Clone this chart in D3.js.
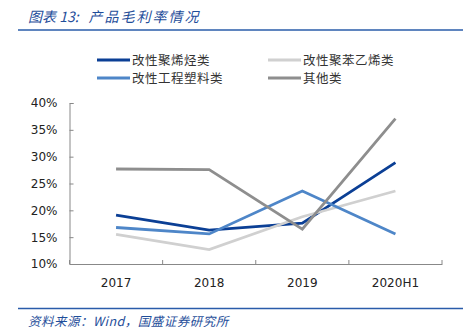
<!DOCTYPE html>
<html><head><meta charset="utf-8">
<script src="https://cdn.jsdelivr.net/npm/d3@7"></script>
<style>body{margin:0;background:#fff}svg{display:block}</style>
</head><body>
<svg id="c" width="474" height="336"></svg>
<script>
const categories = ["2017", "2018", "2019", "2020H1"];
const seriesNames = ["改性聚烯烃类", "改性聚苯乙烯类", "改性工程塑料类", "其他类"];
const polyolefin = [19.1, 16.3, 17.6, 28.9];
const polystyrene = [15.5, 12.7, 18.8, 23.6];
const engPlastic = [16.8, 15.6, 23.6, 15.6];
const others = [27.7, 27.6, 16.5, 37.1];
const yTicks = [10, 15, 20, 25, 30, 35, 40];
const colors = ["#0b3f95", "#d0d0d0", "#4e86c8", "#8e8e8e"];

const series = [
  {name: seriesNames[0], values: polyolefin, color: colors[0]},
  {name: seriesNames[1], values: polystyrene, color: colors[1]},
  {name: seriesNames[2], values: engPlastic, color: colors[2]},
  {name: seriesNames[3], values: others, color: colors[3]}
];

const svg = d3.select("#c");
const L = 69.5, R = 442, T = 103, B = 264;
const x = d3.scaleBand().domain(categories).range([L, R]);
const y = d3.scaleLinear().domain([10, 40]).range([B, T]);

// title
const title = svg.append("text").attr("x", 28).attr("y", 22)
  .attr("font-family", "Noto Sans CJK SC").attr("font-style", "italic")
  .attr("font-size", 14).attr("fill", "#1f4e9a");
title.append("tspan").text("图表 13:");
title.append("tspan").attr("dx", 10).attr("letter-spacing", 2).text("产品毛利率情况");
svg.append("line").attr("x1", 18).attr("x2", 463).attr("y1", 30).attr("y2", 30)
  .attr("stroke", "#2a5caa").attr("stroke-width", 1.5);

// footer
svg.append("line").attr("x1", 18).attr("x2", 463).attr("y1", 308.5).attr("y2", 308.5)
  .attr("stroke", "#2a5caa").attr("stroke-width", 1.5);
svg.append("text").attr("x", 28).attr("y", 326)
  .attr("font-family", "Noto Sans CJK SC").attr("font-style", "italic")
  .attr("font-size", 12.5).attr("letter-spacing", 0.5).attr("fill", "#1f4e9a")
  .text("资料来源：Wind，国盛证券研究所");

// axes
const yAxis = d3.axisLeft(y).tickValues(yTicks).tickFormat(d => d + "%").tickSize(-4).tickPadding(12);
const gy = svg.append("g").attr("transform", `translate(${L},0)`).call(yAxis);
gy.select(".domain").attr("stroke", "#888");
gy.selectAll(".tick line").attr("stroke", "#888");
gy.selectAll("text").attr("font-family", "DejaVu Sans").attr("font-size", 12).attr("fill", "#222");

const xAxis = d3.axisBottom(x).tickSize(0).tickPadding(14);
const gx = svg.append("g").attr("transform", `translate(0,${B})`).call(xAxis);
gx.select(".domain").attr("stroke", "#888");
gx.selectAll("text").attr("font-family", "DejaVu Sans").attr("font-size", 12).attr("fill", "#222");
// boundary ticks between categories (inward)
const bounds = categories.map(c => x(c)).concat([x(categories[categories.length-1]) + x.bandwidth()]);
svg.append("g").selectAll("line").data(bounds).join("line")
  .attr("x1", d => d).attr("x2", d => d).attr("y1", B).attr("y2", B - 4)
  .attr("stroke", "#888");

// lines
const line = d3.line().x((d, i) => x(categories[i]) + x.bandwidth() / 2).y(d => y(d));
svg.append("g").selectAll("path").data(series).join("path")
  .attr("d", d => line(d.values)).attr("fill", "none")
  .attr("stroke", d => d.color).attr("stroke-width", 2.8);

// legend
const legendPos = [[97, 60], [268, 60], [97, 78], [268, 78]];
const lg = svg.append("g").selectAll("g").data(series).join("g")
  .attr("transform", (d, i) => `translate(${legendPos[i][0]},${legendPos[i][1]})`);
lg.append("line").attr("x1", 0).attr("x2", 33).attr("y1", 0).attr("y2", 0)
  .attr("stroke", d => d.color).attr("stroke-width", 3);
lg.append("text").attr("x", 35).attr("y", 4.5)
  .attr("font-family", "Noto Sans CJK SC").attr("font-size", 12.5).attr("letter-spacing", 0.5).attr("fill", "#333")
  .text(d => d.name);
</script>
</body></html>
